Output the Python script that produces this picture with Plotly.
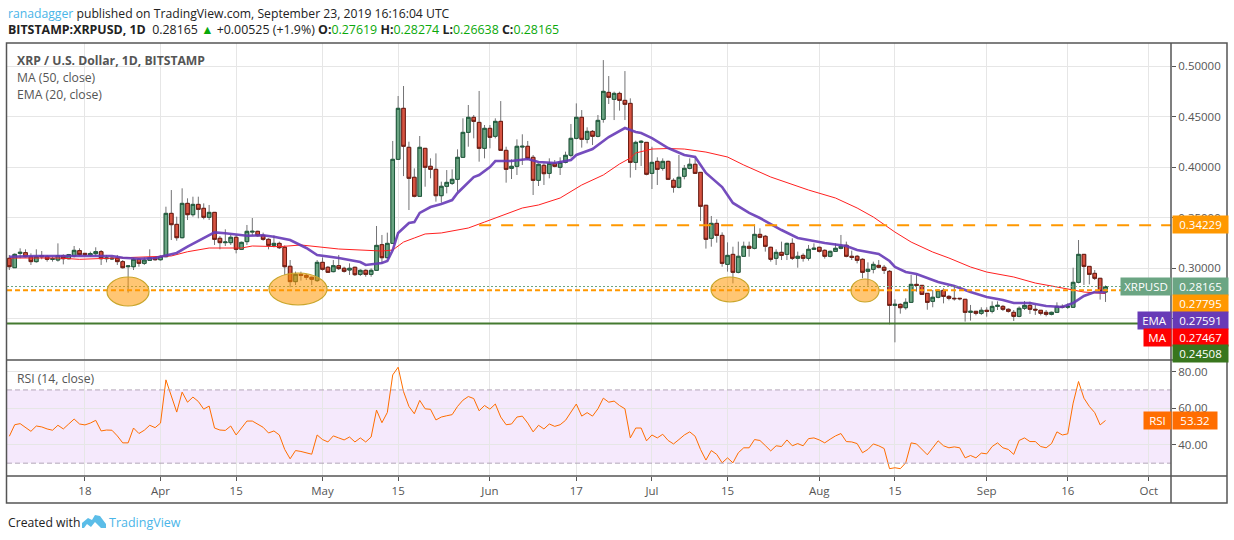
import pandas as pd
import plotly.graph_objects as go

W, H = 1234, 540
L, R, T, B = 7, 63, 43, 64

# ---------- daily OHLC, 2019-03-04 .. 2019-09-23 ----------
open_ = [
 .3096,.3003,.3145,.3152,.3112,.3063,.3122,.3112,.3086,.3079,.3122,.3092,.3119,.3172,.3145,.3129,.3142,.3162,.3092,.3089,.3096,.3063,.3013,.3013,.3086,.3046,.3076,.3102,
 .3082,.3112,.3541,.3432,.3300,.3640,.3528,.3630,.3591,.3502,.3551,.3294,.3251,.3251,.3304,.3185,.3261,.3356,.3363,.3323,.3284,.3224,.3244,.3205,.3017,.2865,.2937,.2927,.2908,.2875,
 .3056,.3007,.2964,.3023,.2997,.2980,.3007,.2937,.2977,.2937,.2977,.3231,.3102,.3244,.4076,.4581,.4195,.3898,.3710,.4185,.4007,.3977,.3716,.3809,.3838,.3878,.4096,.4343,.4492,.4442,.4185,
 .4383,.4304,.4452,.4165,.3987,.4007,.4198,.4205,.4096,.3868,.4017,.3937,.4036,.3997,.4046,.4116,.4284,.4492,.4274,.4353,.4304,.4472,.4739,.4670,.4729,.4660,.4630,.4046,.4244,.4244,
 .3937,.4056,.3987,.4056,.3868,.3799,.3908,.3987,.4027,.3947,.3621,.3294,.3442,.3323,.3036,.3135,.2957,.3116,.3215,.3195,.3333,.3314,.3205,.3096,.3155,.3135,.3244,.3096,.3125,.3096,.3185,
 .3205,.3175,.3116,.3165,.3195,.3225,.3116,.3116,.3086,.2967,.2987,.3026,.3007,.2967,.2630,.2640,.2607,.2660,.2838,.2828,.2749,.2670,.2710,.2779,.2719,.2700,.2700,.2690,.2561,.2571,.2551,
 .2581,.2571,.2620,.2620,.2591,.2561,.2521,.2601,.2630,.2591,.2581,.2561,.2541,.2561,.2620,.2611,.2611,.2858,.3135,.3016,.2947,.2898,.27619,
]
high = [
 .3129,.3145,.3195,.3185,.3145,.3185,.3168,.3129,.3112,.3244,.3135,.3139,.3218,.3195,.3145,.3162,.3205,.3178,.3129,.3112,.3129,.3079,.3020,.3099,.3099,.3105,.3185,.3105,
 .3125,.3607,.3772,.3508,.3789,.3690,.3706,.3706,.3640,.3624,.3551,.3317,.3383,.3327,.3327,.3261,.3426,.3495,.3369,.3350,.3294,.3323,.3261,.3224,.3079,.2964,.2964,.2941,.2914,.3079,
 .3105,.3020,.3079,.3129,.3013,.3046,.3013,.2987,.2987,.2997,.3416,.3327,.3350,.4258,.4703,.4802,.4251,.3987,.4307,.4185,.4086,.4135,.3855,.3970,.3977,.4175,.4482,.4614,.4515,.4753,.4416,
 .4416,.4482,.4653,.4201,.4076,.4274,.4324,.4258,.4119,.4036,.4036,.4086,.4069,.4096,.4152,.4426,.4630,.4564,.4393,.4366,.4515,.5059,.4901,.4746,.4746,.4950,.4680,.4261,.4267,.4244,
 .4201,.4096,.4086,.4063,.3888,.4119,.4020,.4086,.4086,.3947,.3624,.3515,.3482,.3353,.3254,.3211,.3261,.3261,.3261,.3432,.3393,.3327,.3211,.3185,.3261,.3251,.3294,.3162,.3145,.3228,.3244,
 .3211,.3185,.3172,.3244,.3327,.3261,.3172,.3129,.3096,.3056,.3063,.3079,.3030,.2980,.2690,.2650,.2700,.2931,.2931,.2832,.2749,.2782,.2789,.2799,.2733,.2815,.2700,.2690,.2634,.2571,.2611,
 .2611,.2670,.2670,.2634,.2601,.2584,.2620,.2673,.2667,.2634,.2584,.2584,.2568,.2660,.2640,.2650,.3003,.3277,.3135,.3016,.2980,.2898,.28274,
]
low = [
 .2980,.3003,.3096,.3105,.3030,.3053,.3086,.3063,.3063,.3063,.3036,.3086,.3105,.3119,.3119,.3112,.3119,.3030,.3056,.3079,.3030,.2994,.2756,.2980,.3013,.3030,.3073,.3073,
 .3073,.3105,.3277,.3270,.3294,.3475,.3508,.3492,.3482,.3475,.3228,.3185,.3218,.3228,.3145,.3178,.3228,.3323,.3310,.3270,.3185,.3205,.3188,.2931,.2809,.2832,.2875,.2881,.2832,.2861,
 .2974,.2954,.2957,.2980,.2954,.2931,.2921,.2921,.2914,.2914,.2974,.3046,.3096,.3244,.4069,.3910,.3574,.3700,.3706,.3805,.3888,.3657,.3647,.3739,.3822,.3756,.4096,.4201,.4284,.4053,.4086,
 .4185,.4284,.4162,.3845,.3881,.3921,.4020,.4069,.3723,.3812,.3822,.3888,.3997,.3921,.4036,.4096,.4274,.4192,.4234,.4218,.4294,.4439,.4624,.4465,.4558,.4465,.3895,.3970,.4010,.3918,
 .3782,.3822,.3964,.3871,.3746,.3789,.3878,.3977,.3931,.3465,.3192,.3211,.3251,.3013,.2964,.2848,.2947,.3112,.3112,.3185,.3294,.3162,.3063,.3030,.3079,.3079,.3079,.3003,.3063,.3073,.3178,
 .3152,.3093,.3106,.3158,.3185,.3106,.3079,.3046,.2898,.2825,.2947,.2997,.2941,.2442,.2264,.2548,.2587,.2657,.2766,.2733,.2587,.2611,.2700,.2650,.2680,.2677,.2680,.2469,.2479,.2531,.2535,
 .2518,.2551,.2584,.2574,.2558,.2475,.2512,.2584,.2545,.2535,.2531,.2521,.2531,.2554,.2601,.2594,.2607,.2848,.2832,.2838,.2881,.2687,.26638,
]
close = [
 .3013,.3135,.3155,.3112,.3063,.3112,.3112,.3086,.3092,.3122,.3092,.3132,.3175,.3132,.3132,.3142,.3162,.3092,.3099,.3096,.3063,.3003,.3020,.3086,.3046,.3079,.3102,.3082,
 .3115,.3541,.3429,.3300,.3640,.3528,.3630,.3581,.3502,.3551,.3284,.3251,.3257,.3304,.3185,.3254,.3363,.3363,.3320,.3284,.3224,.3244,.3201,.3013,.2865,.2937,.2927,.2908,.2888,.3056,
 .2987,.2957,.3023,.2994,.2967,.2997,.2934,.2977,.2937,.2977,.3224,.3102,.3244,.4076,.4581,.4205,.3888,.3710,.4195,.3997,.3977,.3716,.3809,.3848,.3878,.4096,.4343,.4492,.4452,.4185,.4383,
 .4294,.4452,.4165,.3977,.4007,.4205,.4205,.4086,.3868,.4027,.3934,.4036,.4007,.4046,.4116,.4284,.4492,.4274,.4353,.4304,.4462,.4749,.4690,.4729,.4660,.4621,.4046,.4244,.4254,.3928,
 .4046,.3977,.4056,.3878,.3799,.3898,.3987,.4027,.3937,.3611,.3284,.3442,.3323,.3046,.3125,.2957,.3116,.3215,.3195,.3333,.3304,.3215,.3086,.3155,.3125,.3244,.3096,.3116,.3096,.3185,.3195,
 .3165,.3116,.3165,.3195,.3215,.3116,.3106,.3076,.2957,.2987,.3036,.3007,.2977,.2630,.2640,.2607,.2660,.2838,.2828,.2739,.2660,.2710,.2779,.2719,.2700,.2696,.2696,.2561,.2571,.2551,.2581,
 .2571,.2620,.2630,.2591,.2571,.2521,.2601,.2630,.2591,.2584,.2551,.2541,.2561,.2620,.2611,.2620,.2858,.3135,.3016,.2937,.2898,.2769,.28165,
]
rsi = [
 44.7,51,51.6,49.6,47.4,50.3,49.8,48.7,48,50.7,48.7,51.4,54.1,51.4,50.9,51.9,53.4,47.6,48.1,48,44.9,41.1,41.1,49.2,46.2,48,50.7,49.4,
 51.9,75.5,66.8,57.9,68.8,63.3,66.1,63.7,59.5,61.2,49.2,48.1,47.9,50.3,45.4,49.2,53,53,51.4,49.6,46.5,47.6,45.4,37.5,32.4,36.9,36.4,35.7,34.9,45.4,
 42.9,41.6,44.9,43.8,42.7,44.3,41.6,43.8,41.6,44.3,59,52.1,57.7,78.2,82.4,69.1,61,57,64.3,59.7,59.4,53.6,55.2,55.9,56.5,61,64.4,66.4,65.3,58.6,61.5,
 59.5,62.3,55.2,51,51.4,55.2,55.7,51.9,47.1,50.7,48.7,51.4,50.1,51,53.4,57.9,62.3,55.7,57.6,55.7,59.7,65.5,63.3,63.9,61.5,59.7,43.8,49.2,49.2,42.2,
 45.4,43.8,45.8,42.4,40.5,42.9,45.4,47.1,44.7,37.5,31.7,36.9,34.8,30.2,32.9,30.2,35.7,38.4,38.4,42.9,42.4,39.6,36.7,39.5,39.1,42.7,39.5,40.7,39.5,43.4,43.8,
 42.7,41.1,43.1,44.9,46.2,41.8,41.6,40.7,35.7,37.5,40.5,39.5,38,27,27.5,27,30.2,41.1,40.5,37.3,34.6,38.4,42.2,39.5,38.4,38.9,38.4,32.9,34.2,32.9,35.5,
 35.1,39.1,41.1,38.4,37.5,34.8,42.4,43.8,41.8,41.8,39.1,38.4,40.7,47.1,45.4,46,62.8,74.6,65.5,61,57.6,50.9,53.32,
]

ema_dates = ["03-04","03-09","03-15","03-21","03-23","03-25","03-28","03-31","04-04","04-06","04-09","04-11","04-13","04-17","04-20","04-22","04-25","04-28","04-30",
 "05-04","05-08","05-09","05-12","05-13","05-14","05-15","05-17","05-18","05-19","05-21","05-23","05-25","05-26","05-29","05-30","06-01","06-02","06-05","06-08","06-10","06-13","06-16","06-17","06-20","06-23","06-26","06-28","06-29",
 "07-01","07-04","07-07","07-09","07-11","07-14","07-16","07-19","07-21","07-25","07-28","08-02","08-06","08-08","08-12","08-14","08-15","08-17","08-19","08-23","08-26","08-29","09-01","09-04","09-06","09-09","09-12","09-15","09-17","09-19","09-21","09-23"]
ema_values = [.3112,.3119,.3119,.3122,.3119,.3102,.3092,.3099,.3149,.3211,.3297,.3353,.3344,.3320,.3324,.3310,.3277,.3198,.3129,
 .3099,.3059,.3030,.3050,.3069,.3178,.3347,.3446,.3455,.3545,.3604,.3634,.3673,.3743,.3901,.3921,.4000,.4059,.4059,.4079,.4049,.4040,.4069,.4119,.4178,.4297,.4386,.4346,.4337,
 .4287,.4188,.4119,.4099,.3941,.3802,.3644,.3545,.3495,.3376,.3297,.3248,.3218,.3178,.3139,.3069,.3010,.2960,.2941,.2861,.2822,.2762,.2713,.2683,.2653,.2653,.2624,.2614,.2653,.2723,.2762,.27591]

ma_dates = ["03-04","03-13","03-17","03-24","04-01","04-03","04-06","04-10","04-16","04-18","04-23","04-27","05-04","05-10","05-12","05-14","05-16","05-18","05-20","05-23","05-25","05-28","05-31",
 "06-04","06-07","06-10","06-14","06-18","06-22","06-25","06-27","06-28","07-01","07-04","07-07","07-11","07-15","07-18","07-21","07-23","07-30","08-04","08-08","08-11","08-15","08-18","08-22","08-25","08-29","09-01","09-06","09-10","09-14","09-17","09-19","09-23"]
ma_values = [.3099,.3099,.3086,.3099,.3109,.3119,.3161,.3198,.3198,.3218,.3211,.3228,.3188,.3178,.3168,.3178,.3257,.3297,.3337,.3347,.3366,.3396,.3455,
 .3535,.3594,.3624,.3693,.3822,.3921,.4030,.4089,.4139,.4178,.4183,.4178,.4148,.4099,.4020,.3950,.3901,.3772,.3693,.3594,.3505,.3356,.3257,.3158,.3099,.3010,.2960,.2911,.2851,.2812,.2782,.2762,.27467]

price_ticks = [.25, .30, .35, .40, .45, .50]
price_tick_text = ["", "0.30000", "0.35000", "0.40000", "0.45000", "0.50000"]
rsi_ticks = [40, 60, 80]
x_tick_dates = ["2019-03-18","2019-04-01","2019-04-15","2019-05-01","2019-05-15","2019-06-01","2019-06-17","2019-07-01","2019-07-15","2019-08-01","2019-08-15","2019-09-01","2019-09-16","2019-10-01"]
x_tick_text = ["18","Apr","15","May","15","Jun","17","Jul","15","Aug","15","Sep","16","Oct"]

resistance, support_mid, support_low, last_price = .34229, .27795, .24508, .28165

dates = pd.date_range("2019-03-04", periods=len(close), freq="D")
df = pd.DataFrame(dict(o=open_, h=high, l=low, c=close, r=rsi), index=dates)
body_hi = df[["o", "c"]].max(axis=1)
body_lo = df[["o", "c"]].min(axis=1)

def xp(x): return (x - L) / (W - L - R)
def yp(y): return 1 - (y - T) / (H - T - B)

GREEN, RED = "#6ba583", "#d75442"
WICK = "#737375"
FONT = "Open Sans"
fig = go.Figure()

fig.add_trace(go.Scatter(x=["2019-" + d for d in ma_dates], y=ma_values, mode="lines", line=dict(color="#ff2020", width=1), yaxis="y"))
fig.add_trace(go.Scatter(x=["2019-" + d for d in ema_dates], y=ema_values, mode="lines", line=dict(color="#673ab7", width=2.6), opacity=.9, yaxis="y"))
fig.add_trace(go.Candlestick(x=dates, open=df.o, high=df.h, low=df.l, close=df.c, whiskerwidth=0,
    increasing=dict(line=dict(color=WICK, width=1), fillcolor=WICK), decreasing=dict(line=dict(color=WICK, width=1), fillcolor=WICK), yaxis="y"))
fig.add_trace(go.Candlestick(x=dates, open=df.o, high=body_hi, low=body_lo, close=df.c, whiskerwidth=0,
    increasing=dict(line=dict(color="#1f5a3c", width=1), fillcolor=GREEN), decreasing=dict(line=dict(color="#6e1c12", width=1), fillcolor=RED), yaxis="y"))
fig.add_trace(go.Scatter(x=dates, y=df.r, mode="lines", line=dict(color="#ff6d00", width=1), yaxis="y2"))

shapes = []
# levels
shapes.append(dict(type="line", xref="x", yref="y", x0="2019-05-30", x1="2019-10-05 03:00", y0=resistance, y1=resistance,
                   line=dict(color="#ff9800", width=2, dash="12px,10px")))
shapes.append(dict(type="line", xref="paper", yref="y", x0=0, x1=1, y0=support_mid, y1=support_mid,
                   line=dict(color="#ff9800", width=2, dash="5px,3px")))
shapes.append(dict(type="line", xref="paper", yref="y", x0=0, x1=1, y0=last_price, y1=last_price,
                   line=dict(color=GREEN, width=1, dash="2px,2px")))
shapes.append(dict(type="line", xref="paper", yref="y", x0=0, x1=1, y0=support_low, y1=support_low,
                   line=dict(color="#457a30", width=2)))
# highlighted ellipses
for x0, x1, y0, y1 in [(107, 149, 277, 306), (269, 327, 273, 305), (711, 749, 277, 302), (851, 879, 279, 302)]:
    shapes.append(dict(type="circle", xref="paper", yref="paper", x0=xp(x0), x1=xp(x1), y0=yp(y0), y1=yp(y1),
                       fillcolor="rgba(255,152,0,0.55)", line=dict(color="#c9a62c", width=1.2), layer="above"))
# RSI band
shapes.append(dict(type="rect", xref="paper", yref="y2", x0=0, x1=1, y0=30, y1=70, fillcolor="rgba(155,39,230,0.10)", line=dict(width=0), layer="below"))
for v in (30, 70):
    shapes.append(dict(type="line", xref="paper", yref="y2", x0=0, x1=1, y0=v, y1=v, line=dict(color="#b3a6b8", width=1, dash="5px,3px")))
# frame
frame = "#555555"
shapes.append(dict(type="rect", xref="paper", yref="paper", x0=xp(6.5), x1=xp(1227), y0=yp(43), y1=yp(503), line=dict(color=frame, width=1.5)))
shapes.append(dict(type="line", xref="paper", yref="paper", x0=xp(6.5), x1=xp(1227), y0=yp(360), y1=yp(360), line=dict(color=frame, width=1.5)))
shapes.append(dict(type="line", xref="paper", yref="paper", x0=xp(6.5), x1=xp(1227), y0=yp(476), y1=yp(476), line=dict(color=frame, width=1.5)))
shapes.append(dict(type="line", xref="paper", yref="paper", x0=xp(1171), x1=xp(1171), y0=yp(43), y1=yp(503), line=dict(color=frame, width=1.5)))
# footer logo
pts = [(82,528),(82,523),(88,518),(92,520),(95,515),(100,516),(106,524),(106,528),(101,528),(95,522),(91,527),(87,524),(84,528)]
path = "M " + " L ".join(f"{xp(a):.5f},{yp(b):.5f}" for a, b in pts) + " Z"
shapes.append(dict(type="path", xref="paper", yref="paper", path=path, fillcolor="#5bbde8", line=dict(width=0)))

ann = []
def text(x, y, s, size=12, color="#555555", anchor="left"):
    ann.append(dict(x=xp(x), y=yp(y), xref="paper", yref="paper", text=s, showarrow=False, xanchor=anchor, yanchor="middle",
                    font=dict(family=FONT, size=size, color=color), align="left"))
def tag(x0, x1, y, s, bg, h=17, size=11.5):
    ann.append(dict(x=xp(x0), y=yp(y), xref="paper", yref="paper", text=s, showarrow=False, xanchor="left", yanchor="middle",
                    width=x1 - x0, height=h, bgcolor=bg, borderpad=0, align="center", font=dict(family=FONT, size=size, color="white")))

g = "#0aa80a"
text(6, 13, '<span style="color:#4ab5e8">ranadagger</span> published on TradingView.com, September 23, 2019 16:16:04 UTC', 12.2, "#222222")
text(6, 29, f'<b>BITSTAMP:XRPUSD, 1D</b>  0.28165 <span style="color:{g}">▲</span> +0.00525 (+1.9%) <b>O:</b><span style="color:{g}">0.27619</span> <b>H:</b><span style="color:{g}">0.28274</span> <b>L:</b><span style="color:{g}">0.26638</span> <b>C:</b><span style="color:{g}">0.28165</span>', 12.4, "#222222")
text(15, 60, "<b>XRP / U.S. Dollar, 1D, BITSTAMP</b>", 12.2)
text(15, 77, "MA (50, close)", 12.2)
text(15, 94, "EMA (20, close)", 12.2)
text(15, 378, "RSI (14, close)", 12.2)
text(6, 522, "Created with", 12.2, "#222222")
text(107, 522, "TradingView", 12.5, "#4ab5e8")

tag(1172, 1227, 224, "0.34229", "#ff9800")
tag(1120, 1170, 286, "XRPUSD", GREEN)
tag(1172, 1227, 286, "0.28165", GREEN)
tag(1172, 1227, 303, "0.27795", "#ff9800")
tag(1137, 1170, 320, "EMA", "#673ab7")
tag(1172, 1227, 320, "0.27591", "#673ab7")
tag(1143, 1170, 337, "MA", "#ff0000")
tag(1172, 1227, 337, "0.27467", "#ff0000")
tag(1172, 1227, 353, "0.24508", "#38761d")
tag(1143, 1170, 420.5, "RSI", "#ff6d00")
tag(1172, 1216, 420.5, "53.32", "#ff6d00")

grid = "#e6e6e6"
tickfont = dict(family=FONT, size=11.5, color="#555555")
fig.update_layout(
    width=W, height=H, margin=dict(l=L, r=R, t=T, b=B), showlegend=False,
    paper_bgcolor="white", plot_bgcolor="white", boxgap=0.05, shapes=shapes, annotations=ann,
    xaxis=dict(type="date", range=["2019-03-03 13:40", "2019-10-05 03:00"], anchor="y2", rangeslider=dict(visible=False),
               tickmode="array", tickvals=x_tick_dates, ticktext=x_tick_text, showgrid=True, gridcolor=grid, gridwidth=1,
               ticks="outside", ticklen=4, tickcolor=frame, tickfont=tickfont, showline=False, zeroline=False),
    yaxis=dict(domain=[(476 - 360) / 433, 1], range=[.2089, .5228], side="right", anchor="x", tickmode="array", tickvals=price_ticks,
               ticktext=price_tick_text, showgrid=True, gridcolor=grid, gridwidth=1, ticks="outside", ticklen=4, tickcolor=frame, tickfont=tickfont, zeroline=False),
    yaxis2=dict(domain=[0, (476 - 361) / 433], range=[23, 85.8], side="right", anchor="x", tickmode="array", tickvals=rsi_ticks,
                tickformat=".2f", showgrid=True, gridcolor=grid, gridwidth=1, ticks="outside", ticklen=4, tickcolor=frame, tickfont=tickfont, zeroline=False),
)
fig.write_html("out.html", config=dict(displayModeBar=False),
               post_script="document.body.style.margin='0';document.body.style.overflow='hidden';")
